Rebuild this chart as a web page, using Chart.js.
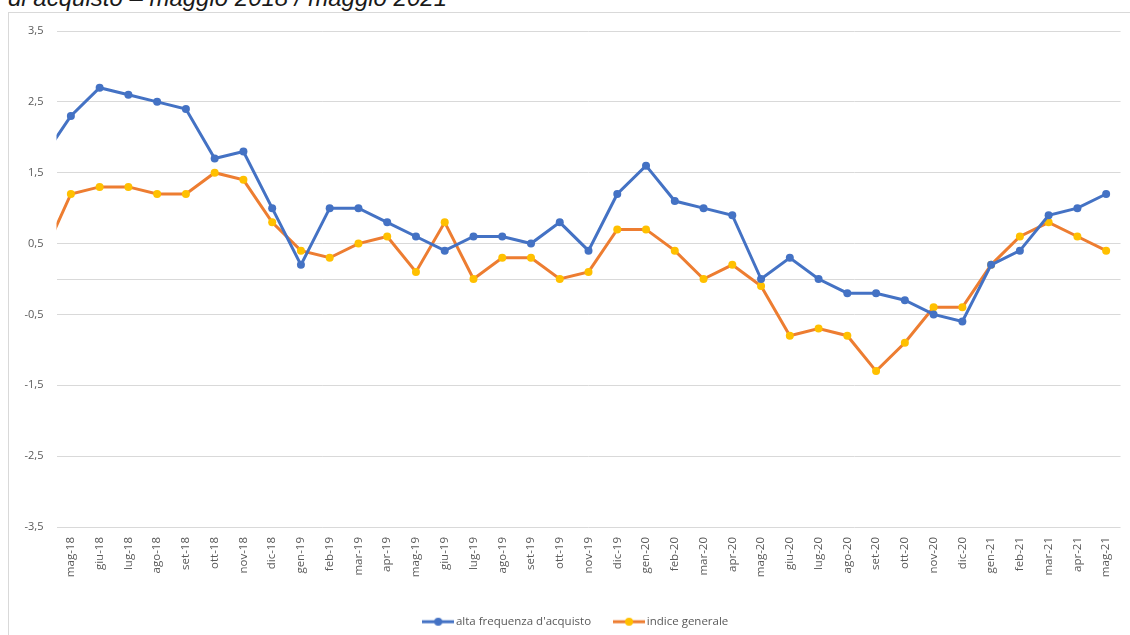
<!DOCTYPE html>
<html>
<head>
<meta charset="utf-8">
<script src="https://cdn.jsdelivr.net/npm/chart.js@4.4.1/dist/chart.umd.min.js"></script>
<style>
    html, body { margin: 0; padding: 0; background: #fff; }
    body { width: 1130px; height: 635px; position: relative; overflow: hidden; }
    .frame { position: absolute; left: 8px; top: 12px; width: 1140px; height: 700px; border: 1px solid #d9d9d9; box-sizing: border-box; }
    .title { position: absolute; left: 8px; top: -14px; font: italic 24px "Liberation Sans", Arial, sans-serif; color: #1a1a1a; line-height: 24px; white-space: nowrap; }
    #chart { position: absolute; left: 0; top: 0; }
</style>
</head>
<body>
<div class="frame"></div>
<div class="title">di acquisto – maggio 2018 / maggio 2021</div>
<canvas id="chart" width="1130" height="644"></canvas>
<script>
// first month (apr-18) sits just outside the plot, only its segment shows
const months = ['apr-18',
    'mag-18', 'giu-18', 'lug-18', 'ago-18', 'set-18', 'ott-18', 'nov-18', 'dic-18',
    'gen-19', 'feb-19', 'mar-19', 'apr-19', 'mag-19', 'giu-19', 'lug-19', 'ago-19', 'set-19', 'ott-19', 'nov-19', 'dic-19',
    'gen-20', 'feb-20', 'mar-20', 'apr-20', 'mag-20', 'giu-20', 'lug-20', 'ago-20', 'set-20', 'ott-20', 'nov-20', 'dic-20',
    'gen-21', 'feb-21', 'mar-21', 'apr-21', 'mag-21'];

const altaFrequenza = [1.7,
    2.3, 2.7, 2.6, 2.5, 2.4, 1.7, 1.8, 1.0,
    0.2, 1.0, 1.0, 0.8, 0.6, 0.4, 0.6, 0.6, 0.5, 0.8, 0.4, 1.2,
    1.6, 1.1, 1.0, 0.9, 0.0, 0.3, 0.0, -0.2, -0.2, -0.3, -0.5, -0.6,
    0.2, 0.4, 0.9, 1.0, 1.2];

const indiceGenerale = [0.3,
    1.2, 1.3, 1.3, 1.2, 1.2, 1.5, 1.4, 0.8,
    0.4, 0.3, 0.5, 0.6, 0.1, 0.8, 0.0, 0.3, 0.3, 0.0, 0.1, 0.7,
    0.7, 0.4, 0.0, 0.2, -0.1, -0.8, -0.7, -0.8, -1.3, -0.9, -0.4, -0.4,
    0.2, 0.6, 0.8, 0.6, 0.4];

const yTicks = [-3.5, -2.5, -1.5, -0.5, 0, 0.5, 1.5, 2.5, 3.5];

const BLUE = '#4472c4';
const ORANGE = '#ed7d31';
const GOLD = '#ffc000';
const TEXT = '#595959';

// legend sample: line with a marker in the middle, Excel style
function legendSample(lineColor, dotColor) {
    const c = document.createElement('canvas');
    c.width = 32; c.height = 10;
    const g = c.getContext('2d');
    g.strokeStyle = lineColor;
    g.lineWidth = 3;
    g.beginPath(); g.moveTo(0, 5); g.lineTo(32, 5); g.stroke();
    g.fillStyle = dotColor;
    g.beginPath(); g.arc(16, 5, 4, 0, Math.PI * 2); g.fill();
    return c;
}
const samples = [legendSample(BLUE, BLUE), legendSample(ORANGE, GOLD)];

// nudge the legend a little right / up, like the original sheet
const legendNudge = {
    id: 'legendNudge',
    afterLayout(chart) {
        const lg = chart.legend;
        lg.left += 10; lg.right += 10;
        lg.top -= 2; lg.bottom -= 2;
    }
};

new Chart(document.getElementById('chart'), {
    type: 'line',
    data: {
        labels: months,
        datasets: [{
            label: "alta frequenza d'acquisto",
            data: altaFrequenza,
            borderColor: BLUE,
            backgroundColor: BLUE,
            borderWidth: 3,
            pointRadius: 4,
            pointBorderWidth: 0,
            pointBackgroundColor: BLUE,
            tension: 0
        }, {
            label: 'indice generale',
            data: indiceGenerale,
            borderColor: ORANGE,
            backgroundColor: ORANGE,
            borderWidth: 3,
            pointRadius: 4,
            pointBorderWidth: 0,
            pointBackgroundColor: GOLD,
            tension: 0
        }]
    },
    options: {
        responsive: false,
        animation: false,
        layout: { padding: { left: 8, right: 3.5, top: 31, bottom: 4.5 } },
        scales: {
            x: {
                min: 'mag-18',
                offset: true,
                grid: { display: false, drawTicks: false },
                border: { display: false },
                ticks: {
                    color: TEXT,
                    font: { family: 'Open Sans', size: 11.5 },
                    minRotation: 90,
                    maxRotation: 90,
                    autoSkip: false,
                    padding: 10
                },
                afterFit: s => { s.height = 65; }
            },
            y: {
                min: -3.5,
                max: 3.5,
                afterBuildTicks: s => { s.ticks = yTicks.map(v => ({ value: v })); },
                grid: { color: '#d9d9d9', lineWidth: 1, drawTicks: false },
                border: { display: false },
                ticks: {
                    color: TEXT,
                    font: { family: 'Open Sans', size: 11 },
                    padding: 13,
                    callback: v => v === 0 ? '' : String(v).replace('.', ',')
                },
                afterFit: s => { s.width = 48.5; }
            }
        },
        plugins: {
            legend: {
                position: 'bottom',
                labels: {
                    color: TEXT,
                    font: { family: 'Open Sans', size: 11.5 },
                    usePointStyle: true,
                    pointStyleWidth: 24,
                    padding: 26,
                    generateLabels: chart => {
                        const items = Chart.defaults.plugins.legend.labels.generateLabels(chart);
                        items.forEach((it, i) => { it.pointStyle = samples[i]; });
                        return items;
                    }
                }
            },
            tooltip: { enabled: false }
        }
    },
    plugins: [legendNudge]
});
</script>
</body>
</html>
